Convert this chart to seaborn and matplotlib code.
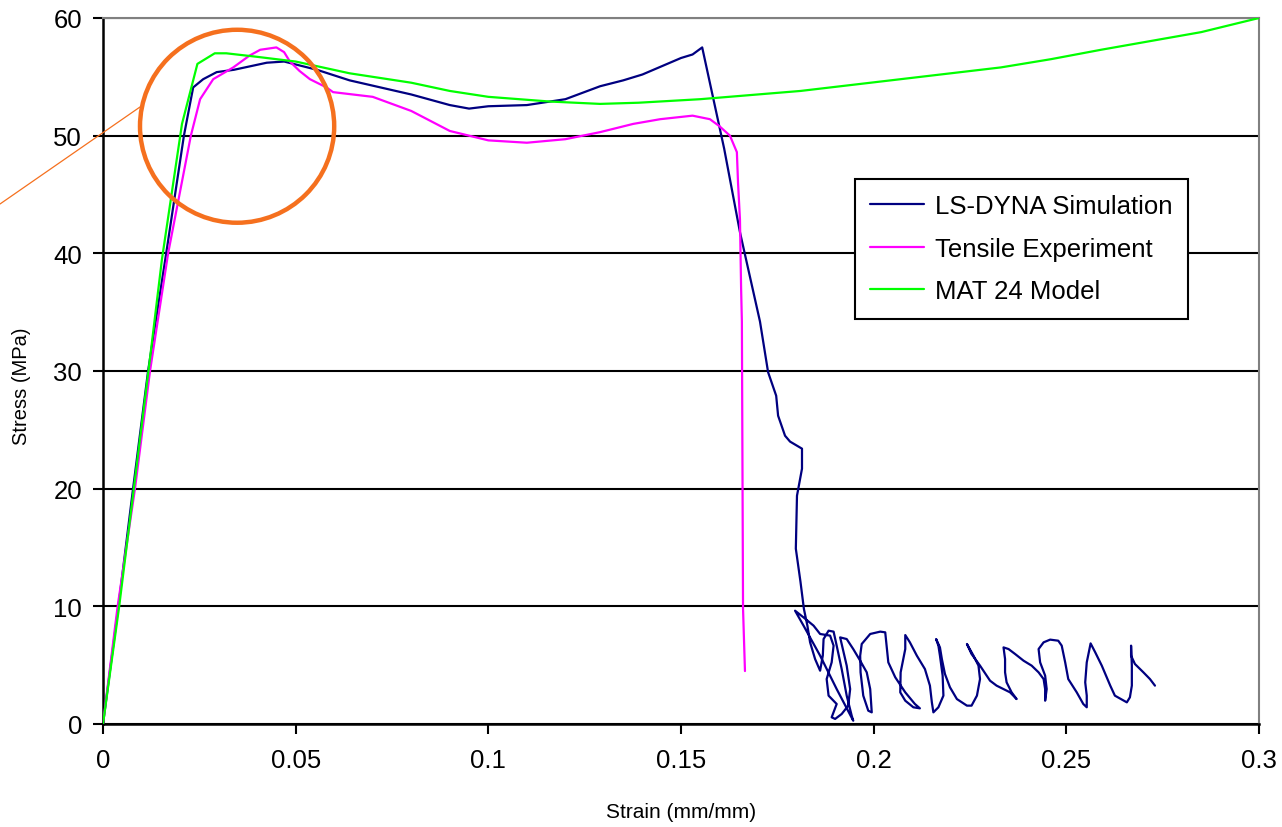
import matplotlib
matplotlib.use("Agg")
import matplotlib.pyplot as plt
import seaborn as sns
import pandas as pd
from matplotlib.patches import Ellipse
from matplotlib.lines import Line2D

# ---------------- data ----------------
dyna_strain = [0, 0.004, 0.0078, 0.0117, 0.0164, 0.021, 0.0234, 0.026, 0.0295, 0.034, 0.0425, 0.047,
               0.0555, 0.064, 0.08, 0.09, 0.095, 0.1, 0.11, 0.12, 0.129, 0.135, 0.14, 0.145, 0.15,
               0.153, 0.1555, 0.1612, 0.1653, 0.1705, 0.1726, 0.1747, 0.1752, 0.177, 0.1783, 0.1814,
               0.1814, 0.1801, 0.1798, 0.181, 0.1819,
               0.1828, 0.1835, 0.1848, 0.1861, 0.1868, 0.1870, 0.1883, 0.1896, 0.1904, 0.1917, 0.1930,
               0.1943, 0.1947, 0.1904, 0.1861, 0.1818, 0.1796, 0.1818, 0.1844, 0.1861, 0.1887, 0.1896,
               0.1891, 0.1878, 0.1883, 0.1904, 0.1891, 0.1900, 0.1917, 0.1934, 0.1939, 0.1930, 0.1917,
               0.1913, 0.1930, 0.1947, 0.1965, 0.1982, 0.1991, 0.1995, 0.1986, 0.1973, 0.1966, 0.1965,
               0.1969, 0.1991, 0.2017, 0.2030,
               0.2038, 0.2056, 0.2082, 0.2107, 0.2120, 0.2103, 0.2082, 0.2069, 0.2070, 0.2082, 0.2082,
               0.2094, 0.2112, 0.2133, 0.2146, 0.2151, 0.2155, 0.2168, 0.2181, 0.2179, 0.2172, 0.2168,
               0.2162, 0.2172, 0.2177, 0.2185, 0.2198, 0.2216, 0.2242, 0.2254, 0.2268, 0.2276, 0.2272,
               0.2259, 0.2242, 0.2254, 0.2276, 0.2302, 0.2319, 0.2337, 0.2354, 0.2371, 0.2358, 0.2345,
               0.2341, 0.2341, 0.2337, 0.2350, 0.2367, 0.2389, 0.2410, 0.2428, 0.2441, 0.2445, 0.2445,
               0.2449, 0.2445, 0.2432, 0.2428, 0.2441, 0.2458, 0.2479, 0.2488, 0.2497, 0.2505, 0.2527,
               0.2544, 0.2553, 0.2553, 0.2549, 0.2553, 0.2563, 0.2575, 0.2592, 0.2614, 0.2626, 0.2657,
               0.2665, 0.2670, 0.2670, 0.2668, 0.2668, 0.2678, 0.2700, 0.2717, 0.2730]
dyna_stress = [0, 10, 20, 30, 40, 50, 54.1, 54.8, 55.4, 55.6, 56.2, 56.3,
               55.6, 54.7, 53.5, 52.6, 52.3, 52.5, 52.6, 53.1, 54.2, 54.7, 55.2, 55.9, 56.6,
               56.9, 57.5, 48.9, 41.8, 34.2, 29.9, 27.9, 26.2, 24.5, 24.0, 23.4,
               21.7, 19.4, 14.9, 12.1, 9.77,
               8.36, 6.94, 5.52, 4.53, 5.81, 7.22, 7.93, 7.85, 6.66, 4.67, 2.41,
               0.71, 0.28, 2.97, 5.81, 8.36, 9.63, 9.06, 8.36, 7.65, 7.51, 6.66,
               5.24, 3.82, 2.41, 1.70, 0.57, 0.43, 0.85, 1.56, 2.97, 4.96, 6.80,
               7.36, 7.22, 6.37, 5.38, 4.39, 2.97, 0.99, 1.13, 2.41, 4.39, 5.81,
               6.80, 7.65, 7.85, 7.79,
               5.24, 3.97, 2.69, 1.70, 1.33, 1.42, 1.98, 2.69, 4.39, 6.37, 7.56,
               6.94, 5.81, 4.67, 3.26, 1.84, 0.99, 1.42, 2.41, 4.11, 5.81, 6.66,
               7.22, 6.51, 5.52, 4.25, 3.12, 2.12, 1.56, 1.56, 2.41, 3.82, 4.96,
               5.81, 6.80, 5.95, 4.96, 3.68, 3.26, 2.97, 2.69, 2.12, 2.69, 3.54,
               4.39, 5.52, 6.51, 6.37, 5.95, 5.38, 4.96, 4.39, 3.82, 2.97, 1.98,
               2.97, 4.11, 5.24, 6.37, 6.94, 7.17, 7.08, 6.66, 5.24, 3.82, 2.69,
               1.70, 1.42, 2.41, 3.54, 5.24, 6.85, 6.09, 4.96, 3.26, 2.41, 1.84,
               2.27, 3.26, 4.96, 6.66, 5.81, 5.10, 4.39, 3.82, 3.26]

exp_strain = [0, 0.0038, 0.0083, 0.0122, 0.0169, 0.0228, 0.0252, 0.0286, 0.0338, 0.038, 0.0408,
              0.045, 0.047, 0.0485, 0.051, 0.0537, 0.058, 0.0597, 0.07, 0.08, 0.09, 0.1, 0.11,
              0.12, 0.129, 0.1376, 0.1446, 0.153, 0.1575, 0.160, 0.1627, 0.1645, 0.1648, 0.1653,
              0.1656, 0.1658, 0.1661, 0.1666]
exp_stress = [0, 10, 20, 30, 40, 50, 53.1, 54.8, 55.8, 56.8, 57.3,
              57.5, 57.1, 56.3, 55.5, 54.8, 54.1, 53.7, 53.3, 52.1, 50.4, 49.6, 49.4,
              49.7, 50.3, 51.0, 51.4, 51.7, 51.4, 50.8, 50.0, 48.6, 46.0, 42.9,
              37.0, 34.2, 9.8, 4.5]

mat_strain = [0, 0.0042, 0.008, 0.0118, 0.0153, 0.0205, 0.0245, 0.029, 0.032, 0.04, 0.05, 0.064,
              0.08, 0.09, 0.1, 0.116, 0.129, 0.139, 0.155, 0.181, 0.207, 0.233, 0.246, 0.259,
              0.285, 0.3]
mat_stress = [0, 10, 20, 30, 39.5, 51, 56.1, 57.0, 57.0, 56.7, 56.3, 55.3,
              54.5, 53.8, 53.3, 52.9, 52.7, 52.8, 53.1, 53.8, 54.8, 55.8, 56.5, 57.3,
              58.8, 60]

series_names = ["LS-DYNA Simulation", "Tensile Experiment", "MAT 24 Model"]
series_colors = ["#000080", "#FF00FF", "#00FF00"]
y_ticks = [0, 10, 20, 30, 40, 50, 60]
x_ticks = [0, 0.05, 0.1, 0.15, 0.2, 0.25, 0.3]
x_tick_labels = ["0", "0.05", "0.1", "0.15", "0.2", "0.25", "0.3"]

# ---------------- figure ----------------
sns.set_theme(style="white")
plt.rcParams["font.family"] = ["Liberation Sans", "DejaVu Sans"]
plt.rcParams["text.color"] = "black"

fig = plt.figure(figsize=(12.82, 8.28), dpi=100)
ax = fig.add_axes([103 / 1282, 1 - 725 / 828, 1156 / 1282, 706 / 828])

frames = [
    pd.DataFrame({"strain": dyna_strain, "stress": dyna_stress, "series": series_names[0]}),
    pd.DataFrame({"strain": exp_strain, "stress": exp_stress, "series": series_names[1]}),
    pd.DataFrame({"strain": mat_strain, "stress": mat_stress, "series": series_names[2]}),
]
for df, name, col in zip(frames, series_names, series_colors):
    sns.lineplot(data=df, x="strain", y="stress", sort=False, estimator=None,
                 color=col, linewidth=1.6, ax=ax, label=name, zorder=3)

ax.set_xlim(0, 0.3)
ax.set_ylim(0, 60)
ax.set_xticks(x_ticks)
ax.set_xticklabels(x_tick_labels)
ax.set_yticks(y_ticks)
ax.yaxis.grid(True, color="black", linewidth=1.5, zorder=1)
ax.xaxis.grid(False)
ax.set_axisbelow(True)

for s in ["left", "bottom"]:
    ax.spines[s].set_color("black")
    ax.spines[s].set_linewidth(1.8)
for s in ["top", "right"]:
    ax.spines[s].set_color("#808080")
    ax.spines[s].set_linewidth(1.5)

ax.tick_params(axis="both", which="major", direction="out", length=7, width=1.5,
               color="black", labelsize=18.5, labelcolor="black")
ax.tick_params(axis="y", left=True, right=False, pad=8)
ax.tick_params(axis="x", bottom=True, top=False, pad=10)

ax.set_xlabel("Strain (mm/mm)", fontsize=15, color="black", labelpad=22)
ax.set_ylabel("Stress (MPa)", fontsize=14.5, color="black")
ax.yaxis.set_label_coords(-0.062, 0.48)

leg = ax.legend(loc="upper left", bbox_to_anchor=((855 - 103) / 1156, (725 - 180) / 706),
                borderaxespad=0, fontsize=18.5, frameon=True, fancybox=False, shadow=False,
                framealpha=1, edgecolor="black", handlelength=2.1, handletextpad=0.4,
                labelspacing=0.72, borderpad=0.6)
leg.get_frame().set_linewidth(1.5)
for t in leg.get_texts():
    t.set_color("black")
for line in leg.get_lines():
    line.set_linewidth(1.6)

# orange annotation circle and leader line
circ = Ellipse((0.0348, 50.8), width=0.0504, height=16.4, fill=False,
               edgecolor="#F5701E", linewidth=3.2, zorder=5, clip_on=False)
ax.add_patch(circ)
fig.add_artist(Line2D([140 / 1282, 0.0], [1 - 108 / 828, 1 - 205 / 828],
                      color="#F5701E", linewidth=0.9, transform=fig.transFigure))

fig.savefig("out.png", dpi=100)
